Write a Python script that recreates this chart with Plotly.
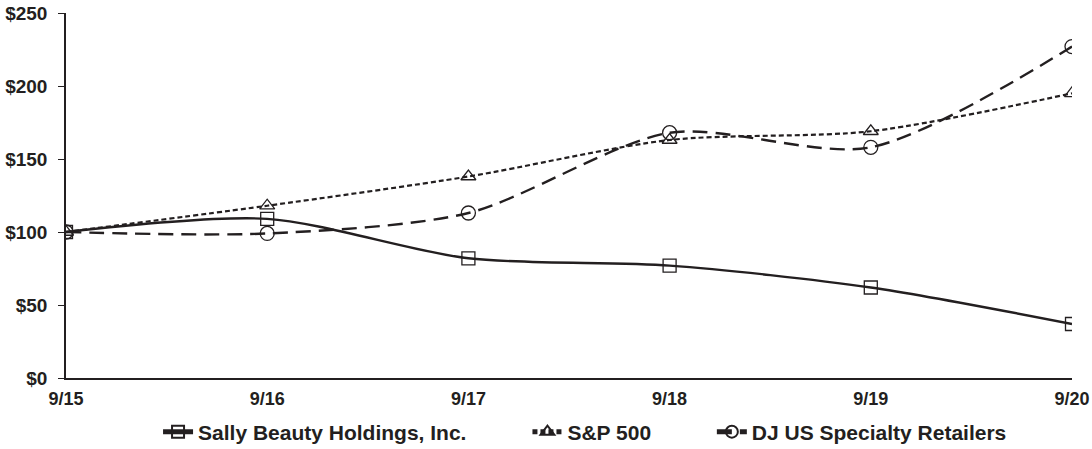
import plotly.graph_objects as go

periods = ["9/15", "9/16", "9/17", "9/18", "9/19", "9/20"]
sally = [100, 109, 82, 77, 62, 37]
sp500 = [100, 118, 138, 163, 169, 195]
dj_retail = [100, 99, 113, 168, 158, 227]
y_ticks = [0, 50, 100, 150, 200, 250]
y_labels = ["$0", "$50", "$100", "$150", "$200", "$250"]

ink = "#231f20"
font_family = "Liberation Sans, Arial, sans-serif"
fig = go.Figure()
fig.add_trace(go.Scatter(x=periods, y=sally, name="Sally Beauty Holdings, Inc.", legend="legend",
                         mode="lines+markers", line=dict(color=ink, width=2.4, shape="spline", smoothing=0.8),
                         marker=dict(symbol="square-open", size=13, color=ink, line=dict(width=1.3))))
fig.add_trace(go.Scatter(x=periods, y=sp500, name="S&P 500", legend="legend2",
                         mode="lines+markers", line=dict(color=ink, width=2.2, dash="5px,3px", shape="spline", smoothing=0.8),
                         marker=dict(symbol="triangle-up-open", size=13, color=ink, line=dict(width=1.3))))
fig.add_trace(go.Scatter(x=periods, y=dj_retail, name="DJ US Specialty Retailers", legend="legend3",
                         mode="lines+markers", line=dict(color=ink, width=2.4, dash="15px,8px", shape="spline", smoothing=0.8),
                         marker=dict(symbol="circle-open", size=14, color=ink, line=dict(width=1.3))))

legend_font = dict(size=21, family=font_family, weight="bold", color=ink)
def leg(xpos):
    return dict(orientation="h", x=xpos, xanchor="left", y=-0.148, yanchor="middle",
                font=legend_font, itemsizing="constant", bgcolor="rgba(0,0,0,0)")

fig.update_layout(
    width=1092, height=449,
    margin=dict(l=66, r=20, t=13, b=71, autoexpand=False),
    paper_bgcolor="white", plot_bgcolor="white",
    font=dict(family=font_family, size=19, color=ink),
    showlegend=True,
    legend=leg(0.0915),
    legend2=leg(0.4587),
    legend3=leg(0.642),
    xaxis=dict(type="category", range=[0, 5], showgrid=False, zeroline=False, automargin=False,
               showline=True, linecolor=ink, linewidth=1.5, ticks="", ticklabeloverflow="allow",
               tickfont=dict(size=18, weight="bold", family=font_family), ticklabelstandoff=4),
    yaxis=dict(range=[0, 250], tickvals=y_ticks, ticktext=y_labels, showgrid=False, zeroline=False,
               automargin=False, ticklabeloverflow="allow",
               showline=True, linecolor=ink, linewidth=1.5, ticks="outside", ticklen=6, tickcolor=ink,
               tickwidth=1.2, tickfont=dict(size=19, weight="bold", family=font_family),
               ticklabelstandoff=7),
)
# remove the browser's default body margin so the 1092x449 figure fills the window exactly
fig.write_html("out.html", config={"displayModeBar": False},
               post_script="document.body.style.margin='0';document.body.style.overflow='hidden';")
